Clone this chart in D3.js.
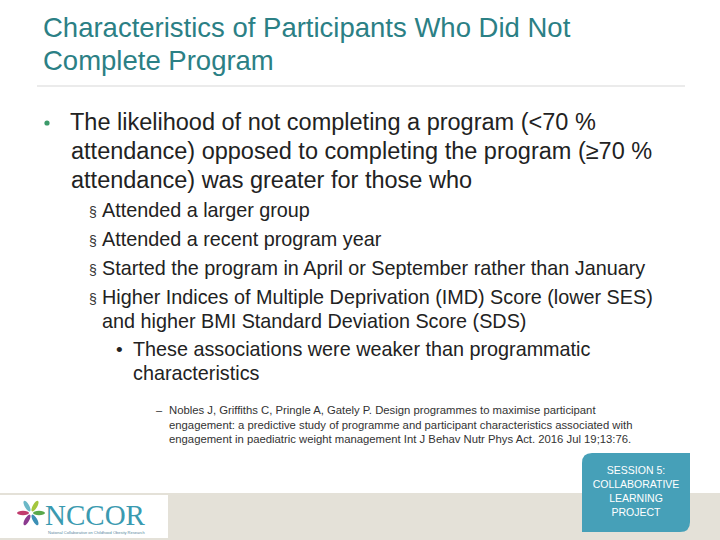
<!DOCTYPE html>
<html lang="en">
<head>
<meta charset="utf-8">
<title>Slide</title>
<script src="https://d3js.org/d3.v7.min.js"></script>
<style>body{margin:0;} text{font-family:"Liberation Sans",Arial,sans-serif;} text.serif{font-family:"Liberation Serif",serif;}</style>
</head>
<body>
<script>
var titleLines = ["Characteristics of Participants Who Did Not", "Complete Program"];
var mainLines = ["The likelihood of not completing a program (<70 %", "attendance) opposed to completing the program (\u226570 %", "attendance) was greater for those who"];
var subItems = [["Attended a larger group"], ["Attended a recent program year"], ["Started the program in April or September rather than January"], ["Higher Indices of Multiple Deprivation (IMD) Score (lower SES)", "and higher BMI Standard Deviation Score (SDS)"]];
var subSubLines = ["These associations were weaker than programmatic", "characteristics"];
var refLines = ["Nobles J, Griffiths C, Pringle A, Gately P. Design programmes to maximise participant", "engagement: a predictive study of programme and participant characteristics associated with", "engagement in paediatric weight management Int J Behav Nutr Phys Act. 2016 Jul 19;13:76."];
var boxLines = ["SESSION 5:", "COLLABORATIVE", "LEARNING", "PROJECT"];

var svg = d3.select("body").append("svg").attr("width", 720).attr("height", 540);
svg.append("rect").attr("width", 720).attr("height", 540).attr("fill", "#fff");

// title
svg.selectAll(".title").data(titleLines).enter().append("text")
	.attr("x", 43).attr("y", function(d, i){ return 37 + i * 33; })
	.attr("font-size", "27.5px").attr("fill", "#2b8085").text(function(d){ return d; });
svg.append("line").attr("x1", 37).attr("x2", 685).attr("y1", 86).attr("y2", 86)
	.attr("stroke", "#ebebeb").attr("stroke-width", 2);

// main bullet
svg.append("circle").attr("cx", 47).attr("cy", 123).attr("r", 2.6).attr("fill", "#3c9a6a");
svg.selectAll(".main").data(mainLines).enter().append("text")
	.attr("x", function(d, i){ return i ? 71 : 70; }).attr("y", function(d, i){ return 130 + i * 29; })
	.attr("font-size", "23.5px").attr("fill", "#222").text(function(d){ return d; });

// sub bullets
var y = 217;
subItems.forEach(function(item){
	svg.append("text").attr("x", 89).attr("y", y).attr("font-size", "14px").attr("fill", "#333").text("\u00a7");
	item.forEach(function(line, j){
		svg.append("text").attr("x", 102).attr("y", y + j * 24)
			.attr("font-size", "19.8px").attr("fill", "#222").text(line);
	});
	y += 29 + (item.length - 1) * 24;
});

// sub-sub bullet
svg.append("text").attr("x", 116).attr("y", 356).attr("font-size", "19px").attr("fill", "#222").text("\u2022");
svg.selectAll(".ss").data(subSubLines).enter().append("text")
	.attr("x", 133).attr("y", function(d, i){ return 356 + i * 24; })
	.attr("font-size", "19.8px").attr("fill", "#222").text(function(d){ return d; });

// reference
svg.append("text").attr("x", 156).attr("y", 414).attr("font-size", "11px").attr("fill", "#333").text("\u2013");
svg.selectAll(".ref").data(refLines).enter().append("text")
	.attr("x", 169).attr("y", function(d, i){ return 414 + i * 14.5; })
	.attr("font-size", "11.3px").attr("fill", "#333").text(function(d){ return d; });

// footer
svg.append("rect").attr("x", 0).attr("y", 493).attr("width", 720).attr("height", 47).attr("fill", "#e4e1d8");
svg.append("rect").attr("x", 0).attr("y", 495).attr("width", 168).attr("height", 43).attr("fill", "#fff");
var petals = ["#5aa84b", "#3b8fb5", "#8b3a8f", "#c13b6d", "#6bb8c7", "#a4c63d"];
petals.forEach(function(c, i){
	var a = i * Math.PI / 3, px = 31 + Math.cos(a) * 8, py = 513 + Math.sin(a) * 8;
	svg.append("ellipse").attr("cx", px).attr("cy", py)
		.attr("rx", 6).attr("ry", 2.2).attr("fill", c)
		.attr("transform", "rotate(" + (i * 60) + "," + px + "," + py + ")");
});
svg.append("text").attr("class", "serif").attr("x", 45).attr("y", 525).attr("font-size", "29px")
	.attr("fill", "#3a9ab0").text("NCCOR");
svg.append("text").attr("x", 48).attr("y", 534).attr("font-size", "4px").attr("fill", "#5a8aa0")
	.text("National Collaborative on Childhood Obesity Research");

// session box
svg.append("path")
	.attr("d", "M592,453 H690 V522 Q690,532 680,532 H582 V463 Q582,453 592,453 Z")
	.attr("fill", "#46a0b8");
svg.selectAll(".box").data(boxLines).enter().append("text")
	.attr("x", 636).attr("y", function(d, i){ return 474 + i * 14; })
	.attr("text-anchor", "middle").attr("font-size", "10.5px").attr("fill", "#fff")
	.text(function(d){ return d; });
</script>
</body>
</html>
